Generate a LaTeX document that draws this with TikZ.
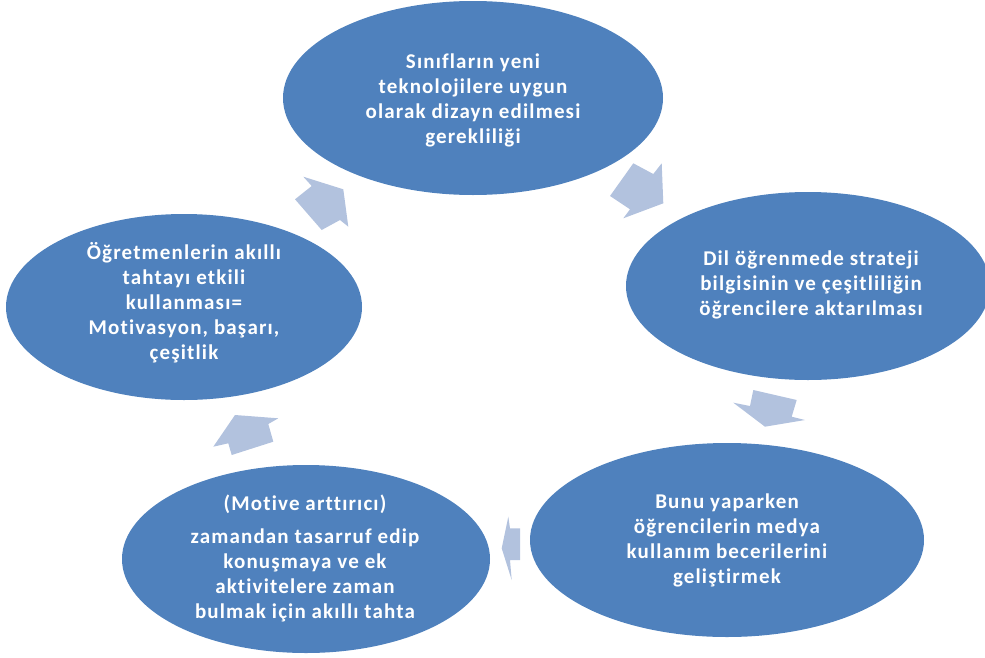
\documentclass[tikz,border=0pt]{standalone}
\usepackage{fontspec}
\setmainfont{Carlito}[LetterSpace=5.5, Ligatures={NoCommon}]
\usetikzlibrary{shapes.geometric}
\definecolor{bubblefill}{HTML}{4F81BD}
\definecolor{arrowfill}{RGB}{178,194,222}
\begin{document}
\begin{tikzpicture}[x=0.75pt,y=-0.75pt,
  bubble/.style={ellipse, fill=bubblefill, inner sep=0pt},
  txt/.style={text=white, align=center, inner sep=0pt,
    font=\fontsize{15.75pt}{18.75pt}\selectfont\bfseries},
  blockarrow/.style={fill=arrowfill}]
\useasboundingbox (0,0) rectangle (985,657);

% ellipses
\node[bubble, minimum width=285pt, minimum height=145.5pt] (top) at (473,98) {};
\node[bubble, minimum width=273pt, minimum height=141pt] (right) at (808,286) {};
\node[bubble, minimum width=295.5pt, minimum height=145.5pt] (bright) at (727,540) {};
\node[bubble, minimum width=276pt, minimum height=141pt] (bleft) at (306,559) {};
\node[bubble, minimum width=267pt, minimum height=139.5pt] (left) at (184,307) {};

% texts
\node[txt] (ttop) at (473,100) {Sınıfların yeni\\teknolojilere uygun\\olarak dizayn edilmesi\\gerekliliği};
\node[txt] (tright) at (811,285) {Dil öğrenmede strateji\\bilgisinin ve çeşitliliğin\\öğrencilere aktarılması};
\node[txt] (tbright) at (727,540) {Bunu yaparken\\öğrencilerin medya\\kullanım becerilerini\\geliştirmek};
\node[txt] (tbleft) at (305,558) {(Motive arttırıcı)\\[6pt]zamandan tasarruf edip\\konuşmaya ve ek\\aktivitelere zaman\\bulmak için akıllı tahta};
\node[txt] (tleft) at (184,303) {Öğretmenlerin akıllı\\tahtayı etkili\\kullanması=\\Motivasyon, başarı,\\çeşitlik};

% block arrows
\fill[blockarrow] (295,199.3) -- (311.7,186) -- (303.3,176.7) -- (343.3,189.3)
  -- (348.3,226.7) -- (340,220) -- (321.7,230) -- cycle;
\fill[blockarrow] (633.3,163.3) -- (653.3,174) -- (661.7,163.3) -- (663.3,203.3)
  -- (623.3,218.3) -- (630,209.3) -- (610,196) -- cycle;
\fill[blockarrow] (753.3,390) -- (796.7,400) -- (791.7,416.7) -- (805,420)
  -- (765,426.7) -- (733.3,402.7) -- (750,406) -- cycle;
\fill[blockarrow] (520,528.3) -- (520,560) -- (510,560) -- (511.7,580)
  -- (501.7,548.3) -- (508.3,516.7) -- (510,528.3) -- cycle;
\fill[blockarrow] (235,415) -- (278.3,418.3) -- (268.3,424) -- (273.3,441.7)
  -- (231.7,455) -- (228.3,443.3) -- (213.3,446.7) -- cycle;
\end{tikzpicture}
\end{document}
